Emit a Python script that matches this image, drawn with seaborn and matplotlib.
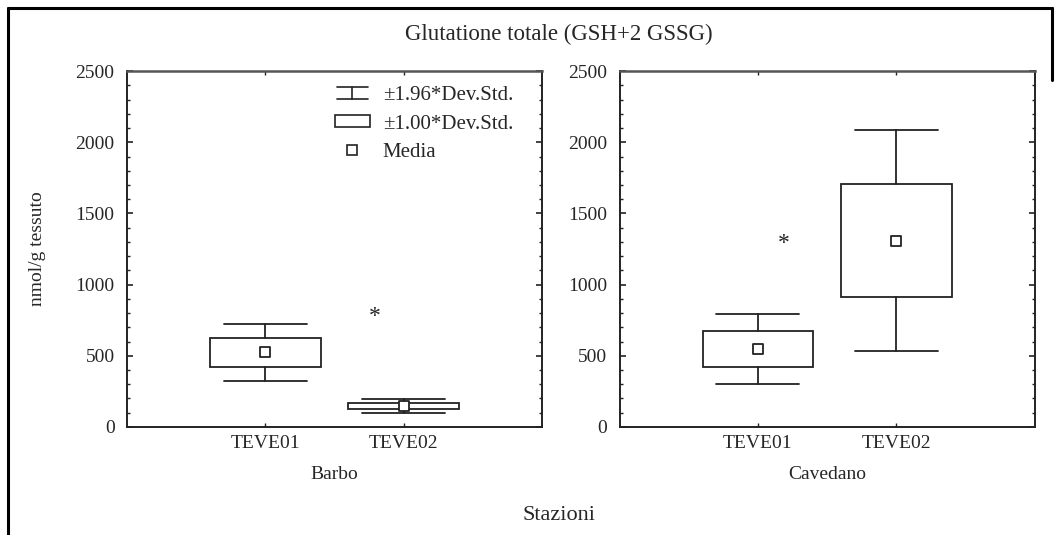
import numpy as np
import matplotlib
matplotlib.use('Agg')
import matplotlib.pyplot as plt
from matplotlib.lines import Line2D
from matplotlib.patches import Rectangle
from matplotlib.legend_handler import HandlerBase
from matplotlib.ticker import MultipleLocator
import pandas as pd
import seaborn as sns

# valori
specie = ['Barbo', 'Cavedano']
stazioni = ['TEVE01', 'TEVE02']
media = {'Barbo': [525, 147], 'Cavedano': [548, 1308]}
dev_std = {'Barbo': [102, 24], 'Cavedano': [125, 396]}
# asterischi (posizione categoria, valore)
star_x = {'Barbo': 0.79, 'Cavedano': 0.19}
star_y = {'Barbo': 775, 'Cavedano': 1290}

sns.set_theme(style='white')
plt.rcParams['font.family'] = ['Liberation Serif', 'DejaVu Serif']
plt.rcParams['font.size'] = 14

ink = '#222222'

fig = plt.figure(figsize=(10.59, 5.35), dpi=100)
ax1 = fig.add_axes([0.120, 0.202, 0.392, 0.665])
ax2 = fig.add_axes([0.585, 0.202, 0.392, 0.665])


class WhiskerHandler(HandlerBase):
    def create_artists(self, legend, orig_handle, xdescent, ydescent, width, height, fontsize, trans):
        x0, x1 = -xdescent + 0.06 * width, -xdescent + 0.94 * width
        xm = (x0 + x1) / 2
        y0, y1 = -ydescent, -ydescent + height
        lw = 1.2
        return [Line2D([x0, x1], [y1, y1], color=ink, lw=lw, transform=trans),
                Line2D([x0, x1], [y0, y0], color=ink, lw=lw, transform=trans),
                Line2D([xm, xm], [y0, y1], color=ink, lw=lw, transform=trans)]


class BoxHandler(HandlerBase):
    def create_artists(self, legend, orig_handle, xdescent, ydescent, width, height, fontsize, trans):
        return [Rectangle((-xdescent, -ydescent), width, height,
                          facecolor='white', edgecolor=ink, lw=1.2, transform=trans)]


class MeanHandler(HandlerBase):
    def create_artists(self, legend, orig_handle, xdescent, ydescent, width, height, fontsize, trans):
        return [Line2D([-xdescent + width / 2], [-ydescent + height / 2], marker='s', ms=6.5,
                       mfc='white', mec=ink, mew=1.2, ls='none', transform=trans)]


for ax, sp in zip([ax1, ax2], specie):
    m = np.array(media[sp], dtype=float)
    s = np.array(dev_std[sp], dtype=float)
    stats = []
    for i, lab in enumerate(stazioni):
        stats.append(dict(label=lab, med=m[i], q1=m[i] - s[i], q3=m[i] + s[i],
                          whislo=m[i] - 1.96 * s[i], whishi=m[i] + 1.96 * s[i], fliers=[]))
    ax.bxp(stats, positions=[0, 1], widths=0.8, capwidths=0.6, showfliers=False,
           patch_artist=True,
           boxprops=dict(facecolor='white', edgecolor=ink, lw=1.3),
           whiskerprops=dict(color=ink, lw=1.3),
           capprops=dict(color=ink, lw=1.3),
           medianprops=dict(visible=False))
    df = pd.DataFrame({'pos': [0, 1], 'media': m})
    sns.scatterplot(data=df, x='pos', y='media', marker='s', s=60, color='white',
                    edgecolor=ink, linewidth=1.3, ax=ax, zorder=5, legend=False)
    ax.text(star_x[sp], star_y[sp], '*', ha='center', va='center', fontsize=17, color=ink)

    ax.set_xlim(-1, 2)
    ax.set_ylim(0, 2500)
    ax.set_xticks([0, 1])
    ax.set_xticklabels(stazioni)
    ax.yaxis.set_major_locator(MultipleLocator(500))
    ax.yaxis.set_minor_locator(MultipleLocator(100))
    ax.tick_params(axis='y', which='major', direction='in', length=4, width=1.2,
                   left=True, right=True, labelsize=14, color=ink, pad=9)
    ax.tick_params(axis='y', which='minor', direction='in', length=2.5, width=1,
                   left=True, right=True, color=ink)
    ax.tick_params(axis='x', direction='in', length=3, width=1, top=True, bottom=True,
                   labelsize=14, color=ink, pad=6)
    for side in ['left', 'right', 'bottom']:
        ax.spines[side].set_color(ink)
        ax.spines[side].set_linewidth(1.4)
    ax.spines['top'].set_color('#555555')
    ax.spines['top'].set_linewidth(1.8)
    ax.set_xlabel(sp, fontsize=14, labelpad=10)
    ax.set_ylabel('')
    ax.set_facecolor('white')

ax1.set_ylabel('nmol/g tessuto', fontsize=14)
ax1.yaxis.set_label_coords(-0.195, 0.5)

h = [object(), object(), object()]
leg = ax1.legend(h, ['±1.96*Dev.Std.', '±1.00*Dev.Std.', 'Media'],
                 handler_map={h[0]: WhiskerHandler(), h[1]: BoxHandler(), h[2]: MeanHandler()},
                 loc='upper left', bbox_to_anchor=(0.455, 1.01), frameon=False,
                 handlelength=1.7, handleheight=0.5, handletextpad=0.6, labelspacing=0.45,
                 fontsize=15)

fig.text(0.528, 0.935, 'Glutatione totale (GSH+2 GSSG)', ha='center', va='center', fontsize=16.5)
fig.text(0.528, 0.037, 'Stazioni', ha='center', va='center', fontsize=16)

# cornice
fig.add_artist(Line2D([0.0075, 0.993], [0.985, 0.985], color='black', lw=2.2, transform=fig.transFigure))
fig.add_artist(Line2D([0.0075, 0.0075], [0.0, 0.985], color='black', lw=2.2, transform=fig.transFigure))
fig.add_artist(Line2D([0.993, 0.993], [0.85, 0.985], color='black', lw=2.2, transform=fig.transFigure))

fig.savefig('out.png', dpi=100, facecolor='white')
